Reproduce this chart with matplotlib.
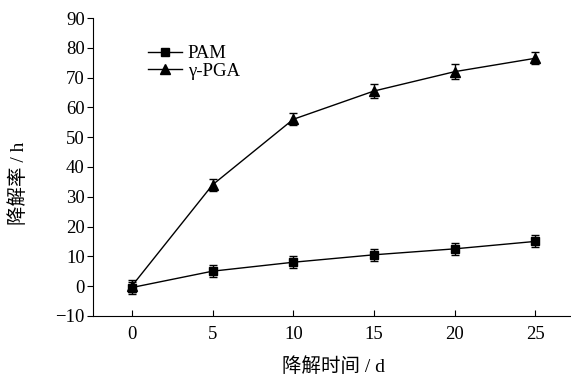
import numpy as np
import matplotlib.pyplot as plt

plt.rcParams['font.family'] = ['Liberation Serif', 'Noto Sans CJK SC']

days = [0, 5, 10, 15, 20, 25]
pam = [-0.5, 5.0, 8.0, 10.5, 12.5, 15.0]
pam_err = [2.0, 2.0, 2.0, 2.0, 2.0, 2.0]
pga = [0.0, 34.0, 56.0, 65.5, 72.0, 76.5]
pga_err = [2.0, 2.0, 2.0, 2.5, 2.5, 2.0]

fig = plt.figure(figsize=(5.71, 3.76), dpi=100)
ax = fig.add_axes([0.163, 0.16, 0.837, 0.792])

# lines with markers (legend), error bars drawn separately
ax.plot(days, pam, color='black', marker='s', markersize=6, lw=1.0, label='PAM')
ax.plot(days, pga, color='black', marker='^', markersize=7, lw=1.0, label='γ-PGA')
ax.errorbar(days, pam, yerr=pam_err, fmt='none', ecolor='black', capsize=3, elinewidth=1.0)
ax.errorbar(days, pga, yerr=pga_err, fmt='none', ecolor='black', capsize=3, elinewidth=1.0)

ax.set_xlim(-2.4, 27.2)
ax.set_ylim(-10, 90)
ax.set_xticks(days)
ax.set_yticks(np.arange(-10, 91, 10))
ax.spines['top'].set_visible(False)
ax.spines['right'].set_visible(False)
ax.tick_params(axis='x', direction='in', labelsize=13.5, length=4, pad=7)
ax.tick_params(axis='y', direction='out', labelsize=13.5, length=4, pad=2)
ax.set_yticklabels(['\u221210'] + [str(v) for v in range(0, 91, 10)])

ax.set_xlabel('降解时间 / d', fontsize=14)
ax.set_ylabel('降解率 / h', fontsize=14)
ax.xaxis.set_label_coords(0.504, -0.138)
ax.yaxis.set_label_coords(-0.136, 0.446)

ax.legend(loc='upper left', bbox_to_anchor=(0.096, 0.94), frameon=False,
          fontsize=13.5, handlelength=1.8, handletextpad=0.3, labelspacing=0.0,
          borderpad=0)

fig.savefig('out.png', dpi=100)
